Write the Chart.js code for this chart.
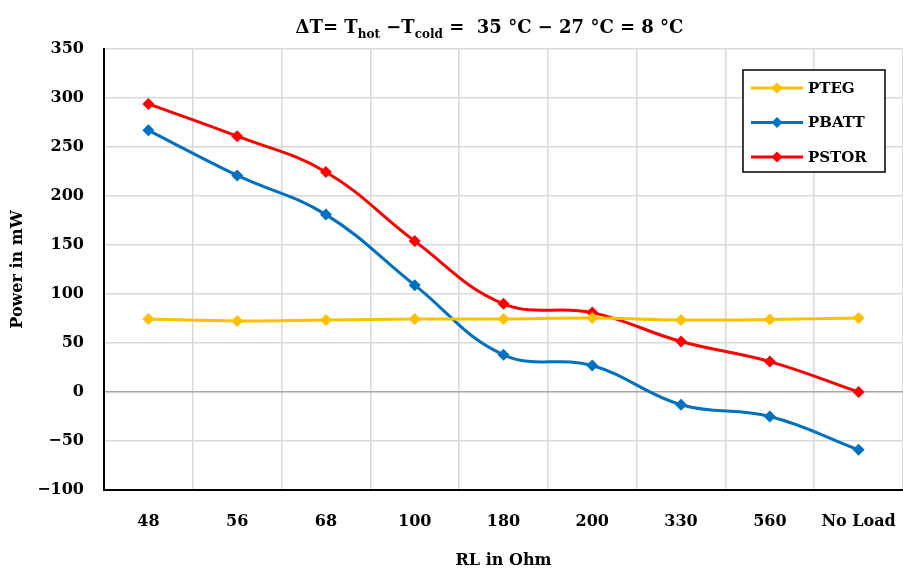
<!DOCTYPE html>
<html>
<head>
<meta charset="utf-8">
<script src="https://cdn.jsdelivr.net/npm/chart.js@4.4.1/dist/chart.umd.min.js"></script>
<style>
  html, body { margin: 0; padding: 0; background: #fff; }
  #wrap { width: 903px; height: 570px; }
</style>
</head>
<body>
<div id="wrap"><canvas id="chart" width="903" height="570"></canvas></div>
<script>
const categories = ['48', '56', '68', '100', '180', '200', '330', '560', 'No Load'];
const pteg  = [74.5, 72.5, 73.5, 74.5, 74.5, 75.5, 73.5, 74, 75.5];
const pbatt = [267, 221, 181, 109, 38, 27, -13, -25, -59];
const pstor = [294, 261, 224.5, 154, 90, 81, 51.5, 31, 0];
const yTicks = [-100, -50, 0, 50, 100, 150, 200, 250, 300, 350];

const FONT = '"DejaVu Serif", "Liberation Serif", serif';

// title with subscripts, drawn as text pieces
const titlePlugin = {
  id: 'subTitle',
  afterDraw(chart) {
    const ctx = chart.ctx;
    const parts = [
      ['ΔT= T', false], ['hot', true], [' −T', false], ['cold', true],
      [' =  35 °C − 27 °C = 8 °C', false]
    ];
    const big = 'bold 18px ' + FONT, small = 'bold 12px ' + FONT;
    ctx.save();
    let total = 0;
    parts.forEach(p => { ctx.font = p[1] ? small : big; total += ctx.measureText(p[0]).width; });
    let x = (chart.width - total) / 2 + 38;
    const y = 33;
    ctx.fillStyle = '#000';
    ctx.textBaseline = 'alphabetic';
    parts.forEach(p => {
      ctx.font = p[1] ? small : big;
      ctx.fillText(p[0], x, p[1] ? y + 5 : y);
      x += ctx.measureText(p[0]).width;
    });
    ctx.restore();
  }
};

// legend box inside the plot area, line + diamond swatches
const boxLegend = {
  id: 'boxLegend',
  afterDraw(chart) {
    const ctx = chart.ctx;
    const a = chart.chartArea;
    const w = 142, h = 102;
    const x0 = a.right - 18 - w, y0 = a.top + 21;
    ctx.save();
    ctx.fillStyle = '#fff';
    ctx.fillRect(x0, y0, w, h);
    ctx.strokeStyle = '#000';
    ctx.lineWidth = 1.5;
    ctx.strokeRect(x0, y0, w, h);
    ctx.font = 'bold 15px ' + FONT;
    ctx.textBaseline = 'middle';
    chart.data.datasets.forEach((ds, i) => {
      const cy = y0 + 18 + i * 34.5;
      ctx.strokeStyle = ds.borderColor;
      ctx.lineWidth = 3;
      ctx.beginPath();
      ctx.moveTo(x0 + 8, cy);
      ctx.lineTo(x0 + 60, cy);
      ctx.stroke();
      ctx.fillStyle = ds.borderColor;
      ctx.beginPath();
      ctx.moveTo(x0 + 34, cy - 5.5);
      ctx.lineTo(x0 + 39.5, cy);
      ctx.lineTo(x0 + 34, cy + 5.5);
      ctx.lineTo(x0 + 28.5, cy);
      ctx.closePath();
      ctx.fill();
      ctx.fillStyle = '#000';
      ctx.fillText(ds.label, x0 + 65, cy + 1);
    });
    ctx.restore();
  }
};

function series(label, data, color) {
  return {
    label: label,
    data: data,
    borderColor: color,
    backgroundColor: color,
    borderWidth: 3,
    tension: 0.4,
    pointStyle: 'rectRot',
    pointRadius: 6,
    pointHoverRadius: 6,
    pointBorderWidth: 0,
    fill: false
  };
}

new Chart(document.getElementById('chart'), {
  type: 'line',
  data: {
    labels: categories,
    datasets: [
      series('PTEG', pteg, '#FFC000'),
      series('PBATT', pbatt, '#0070C0'),
      series('PSTOR', pstor, '#FF0000')
    ]
  },
  options: {
    responsive: false,
    animation: false,
    layout: { autoPadding: false, padding: { top: 49, right: 0, left: 0, bottom: 0 } },
    plugins: {
      legend: { display: false },
      title: { display: false },
      tooltip: { enabled: false }
    },
    scales: {
      x: {
        offset: true,
        grid: { offset: true, color: '#d9d9d9', lineWidth: 1.5, drawTicks: false },
        border: { color: '#000', width: 2 },
        ticks: { color: '#000', font: { family: FONT, size: 16, weight: 'bold' }, padding: 22, maxRotation: 0 },
        title: { display: true, text: 'RL in Ohm', color: '#000', font: { family: FONT, size: 16, weight: 'bold' }, padding: { top: 0, bottom: 0 } },
        afterFit(scale) {
          scale.height = 80;
          scale.paddingLeft = 0;
          scale.paddingRight = 0;
        }
      },
      y: {
        min: -100,
        max: 350,
        afterBuildTicks(scale) { scale.ticks = yTicks.map(v => ({ value: v })); },
        grid: {
          drawTicks: false,
          lineWidth: 1.5,
          color: ctx => (ctx.tick && ctx.tick.value === 0) ? '#a6a6a6' : '#d9d9d9'
        },
        border: { color: '#000', width: 2 },
        ticks: {
          color: '#000',
          padding: 20,
          font: { family: FONT, size: 16, weight: 'bold' },
          callback: v => String(v).replace('-', '−')
        },
        title: { display: true, text: 'Power in mW', color: '#000', font: { family: FONT, size: 16, weight: 'bold' }, padding: { top: 8, bottom: 0 } },
        afterFit(scale) {
          scale.width = 104;
          scale.paddingTop = 0;
          scale.paddingBottom = 0;
        }
      }
    }
  },
  plugins: [titlePlugin, boxLegend]
});
</script>
</body>
</html>
